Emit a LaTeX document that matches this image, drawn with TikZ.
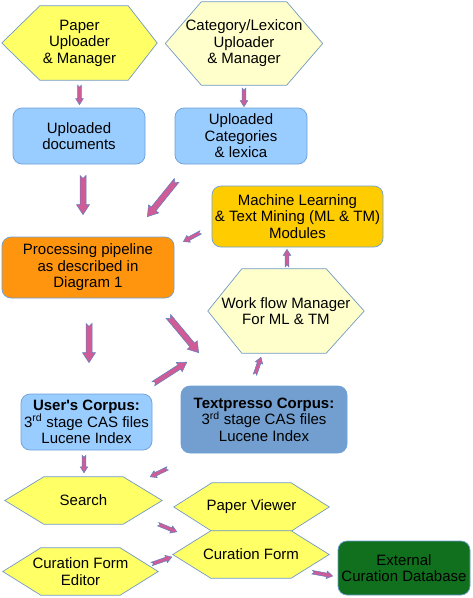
\documentclass[tikz,border=0pt]{standalone}
\usepackage{fontspec}
\setmainfont{Liberation Sans}
\usetikzlibrary{calc,backgrounds}
\definecolor{hexyel}{HTML}{FFFF66}
\definecolor{lightyel}{HTML}{FFFFCC}
\definecolor{lightblue}{HTML}{99CCFF}
\definecolor{gold}{HTML}{FFCC00}
\definecolor{orangebox}{HTML}{FF950E}
\definecolor{tpblue}{HTML}{729FCF}
\definecolor{darkgreen}{HTML}{11701D}
\definecolor{edgeblue}{HTML}{6D9FD5}
\definecolor{arrowpink}{HTML}{CF5C97}
\definecolor{arrowedge}{HTML}{5A7FBF}
\tikzset{
  hexnode/.style={draw=none, inner sep=0pt, align=center},
  hexline/.style={draw=edgeblue!80!gray, line width=0.7pt},
  roundbox/.style={draw=edgeblue, line width=0.7pt, rounded corners=9pt, inner sep=0pt, align=center},
  arrowsty/.style={fill=arrowpink, draw=arrowedge, line width=0.5pt, line join=miter}
}
\newcommand{\hexa}[4]{%
  \begin{scope}[on background layer]
    \draw[hexline, fill=#4] (#1.west) -- ($(#1.north west)+(#2,0)$) -- ($(#1.north east)+(-#3,0)$) -- (#1.east) -- ($(#1.south east)+(-#3,0)$) -- ($(#1.south west)+(#2,0)$) -- cycle;
  \end{scope}}
\newcommand{\barrow}[6]{%
  \coordinate (bA) at #1;
  \coordinate (bB) at #2;
  \coordinate (bH) at ($(bB)!#5!(bA)$);
  \coordinate (bN) at ($(bA)!#6!(bB)$);
  \draw[arrowsty] ($(bA)!#3!90:(bB)$) -- ($(bH)!#3!-90:(bA)$) -- ($(bH)!#4!-90:(bA)$) -- (bB) -- ($(bH)!#4!90:(bA)$) -- ($(bH)!#3!90:(bA)$) -- ($(bA)!#3!-90:(bB)$) -- (bN) -- cycle;}
\newcommand{\bigarrow}[2]{\barrow{#1}{#2}{3pt}{6.5pt}{10pt}{3pt}}
\newcommand{\smallarrow}[2]{\barrow{#1}{#2}{1.8pt}{3.8pt}{6pt}{2pt}}
\begin{document}
\begin{tikzpicture}[x=1pt,y=-1pt,font=\fontsize{15pt}{16.5pt}\selectfont]
\useasboundingbox (0,0) rectangle (472,598);
% hexagon nodes
\node[hexnode, minimum width=155pt, minimum height=74pt] (pu) at (79.5,43) {Paper\\Uploader\\\& Manager};
\hexa{pu}{38pt}{29pt}{hexyel}
\node[hexnode, minimum width=157pt, minimum height=83pt] (cu) at (244,43.5) {Category/Lexicon\\Uploader\\\& Manager};
\hexa{cu}{36pt}{36pt}{lightyel}
\node[hexnode, minimum width=156pt, minimum height=84pt] (wf) at (286,311) {Work flow Manager\\For ML \& TM};
\hexa{wf}{34pt}{38pt}{lightyel}
\node[hexnode, minimum width=157pt, minimum height=47pt] (se) at (83.5,500.5) {Search};
\hexa{se}{39pt}{39pt}{hexyel}
\node[hexnode, minimum width=155pt, minimum height=48pt] (pv) at (251.5,507) {Paper Viewer};
\hexa{pv}{38pt}{38pt}{hexyel}
\node[hexnode, minimum width=156pt, minimum height=47pt] (cf) at (251,554.5) {Curation Form};
\hexa{cf}{38pt}{38pt}{hexyel}
\node[hexnode, minimum width=155pt, minimum height=47pt] (ce) at (80.5,571.5) {Curation Form\\Editor};
\hexa{ce}{38pt}{38pt}{hexyel}
% rounded boxes
\node[roundbox, fill=lightblue, minimum width=132pt, minimum height=56pt] (ud) at (79,136) {Uploaded\\documents};
\node[roundbox, fill=lightblue, minimum width=132pt, minimum height=56pt] (uc) at (241,136) {Uploaded\\Categories\\\& lexica};
\node[roundbox, fill=gold, minimum width=171pt, minimum height=61pt] (ml) at (297.5,216.5) {Machine Learning\\\& Text Mining (ML \& TM)\\Modules};
\node[roundbox, fill=orangebox, minimum width=172pt, minimum height=61pt] (pp) at (88,267.5) {Processing pipeline\\as described in\\Diagram 1};
\node[roundbox, fill=lightblue, minimum width=131pt, minimum height=56pt] (uco) at (86.5,422) {\textbf{User\textquotesingle s Corpus:}\\3\textsuperscript{rd} stage CAS files\\Lucene Index};
\node[roundbox, fill=tpblue, minimum width=166pt, minimum height=67pt] (tc) at (264,419.5) {\textbf{Textpresso Corpus:}\\3\textsuperscript{rd} stage CAS files\\Lucene Index};
\node[roundbox, fill=darkgreen, minimum width=132pt, minimum height=54pt] (ed) at (404,568) {External\\Curation Database};
% arrows
\smallarrow{($(pu.south)+(0,5)$)}{($(ud.north)+(0.5,-3)$)}
\smallarrow{($(cu.south)+(0,3)$)}{($(uc.north)+(3,-1)$)}
\bigarrow{($(ud.south)+(4,11)$)}{($(pp.north)+(-5,-22)$)}
\bigarrow{($(uc.south west)+(2,16)$)}{($(pp.north east)+(-27,-20)$)}
\smallarrow{($(ml.south west)+(-11,-15)$)}{($(pp.north east)+(9,5)$)}
\smallarrow{($(wf.north)+(1,-2)$)}{($(ml.south)+(-10.5,2)$)}
\bigarrow{($(pp.south)+(1,25)$)}{($(uco.north)+(2.5,-31)$)}
\bigarrow{($(pp.south east)+(-6,18)$)}{($(tc.north west)+(18,-33)$)}
\barrow{($(uco.north east)+(1,-10)$)}{($(wf.south west)+(-21,9)$)}{2.5pt}{5.5pt}{9pt}{2.5pt}
\smallarrow{($(tc.north)+(-9,-11)$)}{($(wf.south)+(-25,4)$)}
\smallarrow{($(uco.south)+(-2.5,5)$)}{($(se.north)+(0.5,-4)$)}
\smallarrow{($(tc.south west)+(-13,15)$)}{($(se.north east)+(-12,0)$)}
\smallarrow{($(se.south east)+(-4,0)$)}{($(cf.north west)+(4,1)$)}
\smallarrow{($(ce.east)+(-6.5,-7.5)$)}{($(cf.west)+(-1,2.5)$)}
\smallarrow{($(cf.south east)+(-17,-6)$)}{($(ed.west)+(-5,8)$)}
\end{tikzpicture}
\end{document}
